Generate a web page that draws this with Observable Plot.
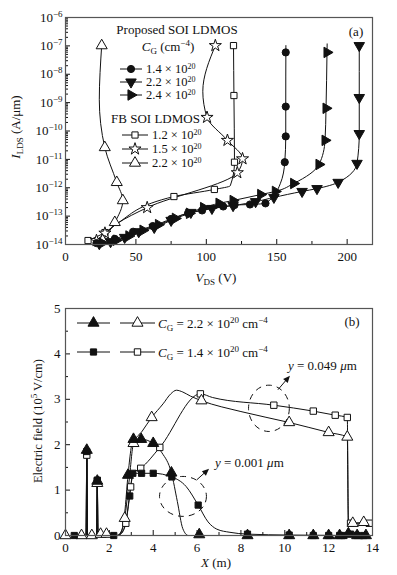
<!DOCTYPE html>
<html>
<head>
<meta charset="utf-8">
<script src="https://cdn.jsdelivr.net/npm/d3@7"></script>
<script src="https://cdn.jsdelivr.net/npm/@observablehq/plot@0.6"></script>
<style>
  html, body { margin: 0; padding: 0; background: #fff; }
  #fig { width: 397px; height: 575px; overflow: hidden; background: #fff; }
  #fig svg { display: block; }
</style>
</head>
<body>
<div id="fig"></div>
<script>
// ================= Panel (a): log10 I_LDS (A/um) vs V_DS (V) =================
// Proposed SOI LDMOS, C_G = 1.4e20 (filled circles)
const p14_line_V = [22, 35, 48, 62, 75, 87, 97, 112, 120, 131, 142, 152.5, 155.7, 156.4, 156.4, 156.5];
const p14_line_L = [-13.95, -13.8, -13.55, -13.35, -13.1, -12.9, -12.8, -12.66, -12.61, -12.59, -12.55, -11.86, -11.1, -10.19, -9.14, -6.99];
const p14_mark_V = [22, 35, 48, 62, 75, 87, 97, 112, 120, 131, 142, 155.7, 156.4, 156.4, 156.4];
const p14_mark_L = [-13.95, -13.8, -13.55, -13.35, -13.1, -12.9, -12.8, -12.66, -12.61, -12.59, -12.55, -11.1, -10.19, -9.14, -7.23];
// Proposed, C_G = 2.2e20 (filled down triangles)
const p22_V = [24, 32, 42, 52, 63, 75, 89, 104, 119, 135, 148, 168, 178.6, 193.6, 207, 208.6, 208.6, 208.6];
const p22_L = [-13.97, -13.9, -13.75, -13.55, -13.4, -13.15, -12.87, -12.73, -12.63, -12.49, -12.34, -12.13, -12.03, -11.81, -11.14, -10.09, -8.82, -6.99];
// Proposed, C_G = 2.4e20 (filled right triangles)
const p24_line_V = [26, 36, 45, 55, 66, 78, 88, 98, 109, 119, 138.6, 149, 162, 180, 184.3, 185, 185.7, 185.8];
const p24_line_L = [-13.95, -13.85, -13.7, -13.5, -13.3, -13.08, -12.9, -12.7, -12.55, -12.45, -12.24, -12.13, -11.85, -11.18, -10.33, -9.2, -7.23, -6.93];
const p24_mark_V = [26, 36, 45, 55, 66, 78, 88, 98, 109, 119, 138.6, 149, 162, 180, 184.3, 185, 185.7];
const p24_mark_L = [-13.95, -13.85, -13.7, -13.5, -13.3, -13.08, -12.9, -12.7, -12.55, -12.45, -12.24, -12.13, -11.85, -11.18, -10.33, -9.2, -7.23];
// FB SOI LDMOS, C_G = 1.2e20 (open squares)
const f12_line_V = [16, 28, 37, 77, 105.7, 117, 120, 119.6, 119.3];
const f12_line_L = [-13.86, -13.58, -13.25, -12.31, -12.06, -11.93, -11.1, -8.75, -6.99];
const f12_mark_V = [16, 28, 77, 105.7, 120, 119.6, 119.3];
const f12_mark_L = [-13.86, -13.58, -12.31, -12.06, -11.1, -8.75, -6.99];
// FB, C_G = 1.5e20 (open stars)
const f15_line_V = [22, 28, 37, 58, 122, 125.7, 115, 100.5, 97.5, 106.4];
const f15_line_L = [-13.86, -13.6, -13.25, -12.7, -11.47, -10.98, -10.33, -9.52, -8.6, -6.99];
const f15_mark_V = [22, 28, 58, 122, 125.7, 115, 100.5, 106.4];
const f15_mark_L = [-13.86, -13.6, -12.7, -11.47, -10.98, -10.33, -9.52, -6.99];
// FB, C_G = 2.2e20 (open up triangles)
const f22_line_V = [26.4, 35, 40.7, 36.4, 27.9, 24, 25.7];
const f22_line_L = [-13.86, -13.22, -12.45, -11.81, -10.58, -8.9, -6.99];
const f22_mark_V = [26.4, 35, 40.7, 36.4, 27.9, 25.7];
const f22_mark_L = [-13.86, -13.22, -12.45, -11.81, -10.58, -6.99];

const propCG = ["1.4", "2.2", "2.4"];
const fbCG = ["1.2", "1.5", "2.2"];
const xTicksA = [0, 50, 100, 150, 200];
const xMinorA = [25, 75, 125, 175];
const yExpA = [-14, -13, -12, -11, -10, -9, -8, -7, -6];

// ================= Panel (b): Electric field (1e5 V/cm) vs X =================
// C_G = 2.2e20, y = 0.001 um (filled triangles)
const fT_line_X = [0, 0.94, 0.97, 1.0, 1.42, 1.45, 1.48, 2.4, 2.55, 2.7, 2.85, 3.1, 3.45, 4.0, 4.4, 4.83, 5.1, 5.35, 5.6, 6.1, 13.7];
const fT_line_E = [0, 0, 2.0, 0, 0, 1.2, 0, 0, 0.08, 0.5, 1.33, 2.12, 2.12, 2.03, 1.82, 1.38, 0.75, 0.15, 0, 0, 0];
const fT_mark_X = [0.97, 1.45, 2.85, 3.1, 3.45, 4.0, 4.83, 6.1, 8.3, 10.2, 11.3, 12.0, 12.5, 12.9, 13.3, 13.7];
const fT_mark_E = [1.88, 1.2, 1.33, 2.12, 2.12, 2.03, 1.38, 0.02, 0, 0, 0, 0, 0, 0.04, 0, 0];
// C_G = 1.4e20, y = 0.001 um (filled squares)
const fS_line_X = [0, 0.94, 0.97, 1.0, 1.42, 1.45, 1.48, 2.3, 2.55, 2.75, 2.93, 3.07, 3.47, 4.0, 4.85, 5.5, 6.05, 6.5, 6.9, 7.5, 8.3, 10.2, 13.7];
const fS_line_E = [0, 0, 1.9, 0, 0, 1.25, 0, 0, 0.05, 0.3, 0.87, 1.37, 1.37, 1.37, 1.29, 1.08, 0.67, 0.3, 0.14, 0.07, 0.03, 0.01, 0];
const fS_mark_X = [0.4, 0.97, 1.45, 2.2, 2.93, 3.07, 3.47, 4.0, 4.85, 6.05, 8.3, 10.2, 11.3, 12.0, 12.5, 12.7, 13.0, 13.3, 13.6];
const fS_mark_E = [0, 1.85, 1.22, 0, 0.87, 1.37, 1.37, 1.37, 1.29, 0.67, 0.03, 0.01, 0, 0, 0, 0, 0.03, 0, 0];
// C_G = 2.2e20, y = 0.049 um (open triangles)
const oT_line_X = [0, 0.94, 0.97, 1.0, 1.42, 1.45, 1.48, 2.35, 2.55, 2.7, 2.9, 3.1, 3.5, 3.93, 4.45, 4.8, 5.06, 5.35, 5.7, 6.2, 8.0, 10.2, 12.0, 12.85, 12.9, 13.1, 13.6, 13.9];
const oT_line_E = [0, 0, 1.85, 0, 0, 1.15, 0, 0, 0.1, 0.38, 1.2, 2.03, 2.3, 2.6, 2.9, 3.12, 3.2, 3.16, 3.07, 2.97, 2.73, 2.49, 2.27, 2.17, 0.27, 0.27, 0.29, 0.27];
const oT_mark_X = [0, 0.73, 1.2, 1.45, 1.6, 1.87, 2.7, 3.1, 3.93, 6.2, 10.2, 12.0, 12.85, 13.1, 13.6];
const oT_mark_E = [0, 0, 0, 1.15, 0.03, 0.03, 0.38, 2.03, 2.6, 2.97, 2.49, 2.27, 2.17, 0.27, 0.29];
// C_G = 1.4e20, y = 0.049 um (open squares)
const oS_line_X = [0, 0.94, 0.97, 1.0, 1.42, 1.45, 1.48, 2.4, 2.6, 2.75, 2.97, 3.1, 3.43, 4.3, 6.15, 6.7, 9.5, 11.3, 12.3, 12.85, 12.9, 13.0, 13.85];
const oS_line_E = [0, 0, 1.77, 0, 0, 1.2, 0, 0, 0.08, 0.27, 1.07, 1.38, 1.48, 1.94, 3.12, 3.04, 2.87, 2.74, 2.65, 2.6, 0.3, 0.27, 0.27];
const oS_mark_X = [0.97, 1.45, 2.75, 2.97, 3.43, 4.3, 6.15, 9.5, 11.3, 12.3, 12.85, 13.0, 13.85];
const oS_mark_E = [1.77, 1.2, 0.27, 1.07, 1.48, 1.94, 3.12, 2.87, 2.74, 2.65, 2.6, 0.27, 0.27];

const legendCG_B = ["2.2", "1.4"];
const xTicksB = [0, 2, 4, 6, 8, 10, 12, 14];
const xMinorB = [1, 3, 5, 7, 9, 11, 13];
const yTicksB = [0, 1, 2, 3, 4, 5];
const yMinorB = [0.5, 1.5, 2.5, 3.5, 4.5];
// annotations (data units): ellipse centres / radii, arrows, labels
const ellX = [9.3, 5.38], ellE = [2.79, 0.85], ellRX = [0.93, 1.07], ellRY = [0.51, 0.44];
const arrX1 = [9.71, 6.02], arrE1 = [3.2, 1.22], arrX2 = [10.26, 6.57], arrE2 = [3.51, 1.46];
const annX = [10.17, 6.84], annE = [3.64, 1.5], annText = ["0.049", "0.001"];

// ================= helpers =================
const INK = "#111";
const FONT = "'Liberation Serif', 'DejaVu Serif', serif";
const pow10 = v => Math.pow(10, v);
const rowsOf = (X, Y, tf = v => v) => X.map((x, i) => ({x, y: tf(Y[i])}));
const SYM = {circle: d3.symbolCircle, triangle: d3.symbolTriangle, square: d3.symbolSquare, star: d3.symbolStar};
const symPath = (name, r) => d3.symbol(SYM[name], Math.PI * r * r)();

function rich(sel, parts, small = 9, up = 5) {
  let shift = 0;
  for (const [t, k] of parts) {
    const ts = sel.append("tspan").text(t);
    const target = k === "sup" ? -up : k === "sub" ? 3 : 0;
    if (target !== shift) { ts.attr("dy", target - shift); shift = target; }
    if (k === "sup" || k === "sub") ts.attr("font-size", small + "px");
    if (k === "i") ts.attr("font-style", "italic");
  }
}
function swatch(g, x1, x2, y, s) {
  g.append("line").attr("x1", x1).attr("x2", x2).attr("y1", y).attr("y2", y)
    .attr("stroke", INK).attr("stroke-width", 1);
  g.append("path").attr("d", symPath(s.symbol, s.r))
    .attr("transform", `translate(${(x1 + x2) / 2},${y}) rotate(${s.rotate})`)
    .attr("fill", s.fill).attr("stroke", INK).attr("stroke-width", 1);
}
function label(g, x, y, parts, anchor = "start", size = 13, small = 9, up = 5) {
  const t = g.append("text").attr("x", x).attr("y", y).attr("text-anchor", anchor)
    .attr("font-family", FONT).attr("font-size", size + "px").attr("fill", INK);
  rich(t, parts, small, up);
  return t;
}
function supLabels(svg, axis) {
  d3.select(svg).selectAll(`g[aria-label="${axis}-axis tick label"] text`).each(function () {
    const [b, e] = this.textContent.split("^");
    const sel = d3.select(this); sel.text(null);
    rich(sel, [[b, ""], [e.replace("-", "\u2212"), "sup"]]);
  });
}

// ================= Panel (a) =================
const seriesA = [
  {line: [f12_line_V, f12_line_L], mark: [f12_mark_V, f12_mark_L], symbol: "square", rotate: 0, fill: "white", r: 3.5},
  {line: [f15_line_V, f15_line_L], mark: [f15_mark_V, f15_mark_L], symbol: "star", rotate: 0, fill: "white", r: 3.8},
  {line: [f22_line_V, f22_line_L], mark: [f22_mark_V, f22_mark_L], symbol: "triangle", rotate: 0, fill: "white", r: 4.1},
  {line: [p14_line_V, p14_line_L], mark: [p14_mark_V, p14_mark_L], symbol: "circle", rotate: 0, fill: INK, r: 3.6},
  {line: [p22_V, p22_L], mark: [p22_V, p22_L], symbol: "triangle", rotate: 180, fill: INK, r: 3.9},
  {line: [p24_line_V, p24_line_L], mark: [p24_mark_V, p24_mark_L], symbol: "triangle", rotate: 90, fill: INK, r: 3.9}
];
const yMajA = yExpA.map(pow10);
const yMinA = yExpA.slice(0, -1).flatMap(e => [2, 3, 4, 5, 6, 7, 8, 9].map(m => m * pow10(e)));

const svgA = Plot.plot({
  width: 397, height: 290, marginLeft: 65, marginRight: 25, marginTop: 17, marginBottom: 46,
  style: {fontFamily: FONT, fontSize: "13px", color: INK, background: "white"},
  x: {domain: [0, 218], label: null},
  y: {type: "log", domain: [1e-14, 1e-6], label: null},
  marks: [
    Plot.axisX(xTicksA, {tickSize: 0, tickPadding: 7, tickFormat: d => String(d), label: null}),
    Plot.axisX(xTicksA, {tickSize: -5, fill: "none", label: null}),
    Plot.axisX(xMinorA, {tickSize: -3, fill: "none", label: null}),
    Plot.axisY(yMajA, {tickSize: 0, tickPadding: 3, tickFormat: d => "10^" + Math.round(Math.log10(d)), label: null}),
    Plot.axisY(yMajA, {tickSize: -5, fill: "none", label: null}),
    Plot.axisY(yMinA, {tickSize: -3, fill: "none", label: null}),
    ...seriesA.map(s => Plot.line(rowsOf(s.line[0], s.line[1], pow10), {x: "x", y: "y", curve: "monotone-y", stroke: INK, strokeWidth: 1})),
    ...seriesA.map(s => Plot.dot(rowsOf(s.mark[0], s.mark[1], pow10), {x: "x", y: "y", symbol: s.symbol, rotate: s.rotate, r: s.r, fill: s.fill, stroke: INK, strokeWidth: 1})),
    Plot.frame({stroke: "#555", strokeWidth: 1.2})
  ]
});
supLabels(svgA, "y");
{
  const g = d3.select(svgA).append("g");
  label(g, 177, 34, [["Proposed SOI LDMOS", ""]], "middle");
  label(g, 168, 51, [["C", "i"], ["G", "sub"], [" (cm", ""], ["\u22124", "sup"], [")", ""]], "middle");
  const prop = seriesA.slice(3), fb = seriesA.slice(0, 3);
  const rowsP = [69, 82, 95], rowsF = [135, 149, 163];
  prop.forEach((s, i) => { swatch(g, 120, 142, rowsP[i], s); label(g, 146, rowsP[i] + 4, [[propCG[i] + " \u00d7 10", ""], ["20", "sup"]], "start", 12.5, 8, 4); });
  label(g, 155.5, 123, [["FB SOI LDMOS", ""]], "middle");
  fb.forEach((s, i) => { swatch(g, 122, 148, rowsF[i], s); label(g, 152, rowsF[i] + 4, [[fbCG[i] + " \u00d7 10", ""], ["20", "sup"]], "start", 12.5, 8, 4); });
  label(g, 356, 36, [["(a)", ""]], "middle");
  // axis titles
  const yl = g.append("text").attr("transform", "translate(20,127) rotate(-90)").attr("text-anchor", "middle")
    .attr("font-family", FONT).attr("font-size", "13px").attr("fill", INK);
  rich(yl, [["I", "i"], ["LDS", "sub"], [" (A/\u03bcm)", ""]]);
  label(g, 216, 282, [["V", "i"], ["DS", "sub"], [" (V)", ""]], "middle");
}

// ================= Panel (b) =================
const seriesB = [
  {line: [oS_line_X, oS_line_E], mark: [oS_mark_X, oS_mark_E], symbol: "square", rotate: 0, fill: "white", r: 3.6},
  {line: [oT_line_X, oT_line_E], mark: [oT_mark_X, oT_mark_E], symbol: "triangle", rotate: 0, fill: "white", r: 4.1},
  {line: [fS_line_X, fS_line_E], mark: [fS_mark_X, fS_mark_E], symbol: "square", rotate: 0, fill: INK, r: 3.5},
  {line: [fT_line_X, fT_line_E], mark: [fT_mark_X, fT_mark_E], symbol: "triangle", rotate: 0, fill: INK, r: 4.1}
];
const svgB = Plot.plot({
  width: 397, height: 285, marginLeft: 65, marginRight: 25, marginTop: 18, marginBottom: 40,
  style: {fontFamily: FONT, fontSize: "13px", color: INK, background: "white"},
  x: {domain: [0, 14], label: null},
  y: {domain: [0, 5], label: null},
  marks: [
    Plot.axisX(xTicksB, {tickSize: 0, tickPadding: 7, tickFormat: d => String(d), label: null}),
    Plot.axisX(xTicksB, {tickSize: -5, fill: "none", label: null}),
    Plot.axisX(xMinorB, {tickSize: -3, fill: "none", label: null}),
    Plot.axisY(yTicksB, {tickSize: 0, tickPadding: 5, tickFormat: d => String(d), label: null}),
    Plot.axisY(yTicksB, {tickSize: -5, fill: "none", label: null}),
    Plot.axisY(yMinorB, {tickSize: -3, fill: "none", label: null}),
    ...seriesB.map(s => Plot.line(rowsOf(s.line[0], s.line[1]), {x: "x", y: "y", curve: "monotone-x", stroke: INK, strokeWidth: 1})),
    ...seriesB.map(s => Plot.dot(rowsOf(s.mark[0], s.mark[1]), {x: "x", y: "y", symbol: s.symbol, rotate: s.rotate, r: s.r, fill: s.fill, stroke: INK, strokeWidth: 1})),
    Plot.frame({stroke: "#555", strokeWidth: 1.2})
  ]
});
{
  const xs = svgB.scale("x"), ys = svgB.scale("y");
  const X = v => xs.apply(v), Y = v => ys.apply(v);
  const g = d3.select(svgB).append("g");
  // legend
  const legRows = [33, 62];
  const filled = [seriesB[3], seriesB[2]], open = [seriesB[1], seriesB[0]];
  legRows.forEach((y, i) => {
    swatch(g, 77, 110, y, filled[i]);
    swatch(g, 120, 155, y, open[i]);
    label(g, 158, y + 4.5, [["C", "i"], ["G", "sub"], [" = " + legendCG_B[i] + " \u00d7 10", ""], ["20", "sup"], [" cm", ""], ["\u22124", "sup"]]);
  });
  label(g, 352, 36, [["(b)", ""]], "middle");
  // dashed ellipses
  ellX.forEach((cx, i) => {
    g.append("ellipse").attr("cx", X(cx)).attr("cy", Y(ellE[i]))
      .attr("rx", Math.abs(X(cx + ellRX[i]) - X(cx))).attr("ry", Math.abs(Y(ellE[i] + ellRY[i]) - Y(ellE[i])))
      .attr("fill", "none").attr("stroke", INK).attr("stroke-width", 1).attr("stroke-dasharray", "6,5");
  });
  // arrows
  arrX1.forEach((x1v, i) => {
    const x1 = X(x1v), y1 = Y(arrE1[i]), x2 = X(arrX2[i]), y2 = Y(arrE2[i]);
    const a = Math.atan2(y2 - y1, x2 - x1), L = 7, W = 3;
    g.append("line").attr("x1", x1).attr("y1", y1).attr("x2", x2 - L * 0.8 * Math.cos(a)).attr("y2", y2 - L * 0.8 * Math.sin(a))
      .attr("stroke", INK).attr("stroke-width", 1);
    const pts = [[x2, y2],
      [x2 - L * Math.cos(a) + W * Math.sin(a), y2 - L * Math.sin(a) - W * Math.cos(a)],
      [x2 - L * Math.cos(a) - W * Math.sin(a), y2 - L * Math.sin(a) + W * Math.cos(a)]];
    g.append("polygon").attr("points", pts.map(p => p.join(",")).join(" ")).attr("fill", INK);
  });
  // annotation labels
  annX.forEach((ax, i) => {
    label(g, X(ax), Y(annE[i]), [["y", "i"], [" = " + annText[i] + " ", ""], ["\u03bc", "i"], ["m", ""]]);
  });
  // axis titles
  const yl = g.append("text").attr("transform", "translate(41.5,131) rotate(-90)").attr("text-anchor", "middle")
    .attr("font-family", FONT).attr("font-size", "12.5px").attr("fill", INK);
  rich(yl, [["Electric field (10", ""], ["5", "sup"], [" V/cm)", ""]]);
  label(g, 216, 277, [["X", "i"], [" (m)", ""]], "middle");
}

document.getElementById("fig").append(svgA, svgB);
</script>
</body>
</html>
